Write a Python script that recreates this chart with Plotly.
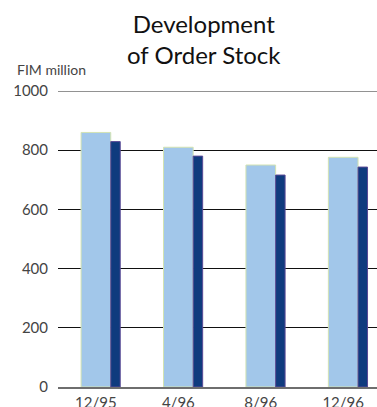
import plotly.graph_objects as go

# Order stock, FIM million, at each reporting date
periods = ["12/95", "4/96", "8/96", "12/96"]
series_a = [860, 810, 750, 776]
series_b = [829, 780, 716, 743]
y_ticks = [0, 200, 400, 600, 800, 1000]

xpos = list(range(len(periods)))

fig = go.Figure()
fig.add_trace(go.Bar(
    x=xpos, y=series_a, width=0.36, offset=-0.18,
    marker=dict(color="#a2c7ea", line=dict(color="#d3e3b2", width=1)),
    hoverinfo="skip",
))
fig.add_trace(go.Bar(
    x=xpos, y=series_b, width=0.115, offset=0.18,
    marker=dict(color="#0f3b7e", line=dict(color="#5a4a96", width=1)),
    hoverinfo="skip",
))

font_family = "Lato, 'Open Sans', sans-serif"

fig.update_layout(
    width=377, height=407,
    margin=dict(l=58, r=0, t=91, b=20),
    paper_bgcolor="white", plot_bgcolor="white",
    showlegend=False, barmode="overlay",
    font=dict(family=font_family, color="#444444"),
    xaxis=dict(
        range=[-0.46, 3.41], tickvals=xpos, ticktext=periods,
        showgrid=False, zeroline=False, automargin=False,
        showline=True, linecolor="#6e6e6e", linewidth=1.5,
        ticks="outside", ticklen=1, tickcolor="rgba(0,0,0,0)",
        tickfont=dict(size=15, color="#444444"),
    ),
    yaxis=dict(
        range=[0, 1000], tickvals=y_ticks, automargin=False,
        showgrid=True, gridcolor="#111111", gridwidth=1,
        zeroline=False, showline=False,
        ticks="outside", ticklen=6, tickcolor="rgba(0,0,0,0)",
        tickfont=dict(size=15, color="#444444"),
    ),
    shapes=[dict(
        type="line", xref="paper", yref="y", x0=0, x1=1, y0=1000, y1=1000,
        line=dict(color="#6e6e6e", width=1.5), layer="above",
    )],
    annotations=[
        dict(
            text="Development<br>of Order Stock", xref="paper", yref="paper",
            x=0.4577, y=1.285, xanchor="center", yanchor="top", showarrow=False,
            font=dict(size=24, color="#111111", family=font_family),
        ),
        dict(
            text="FIM million", xref="paper", yref="paper",
            x=-0.135, y=1.074, xanchor="left", yanchor="middle", showarrow=False,
            font=dict(size=14, color="#444444", family=font_family),
        ),
    ],
)

fig.write_html("out.html")
